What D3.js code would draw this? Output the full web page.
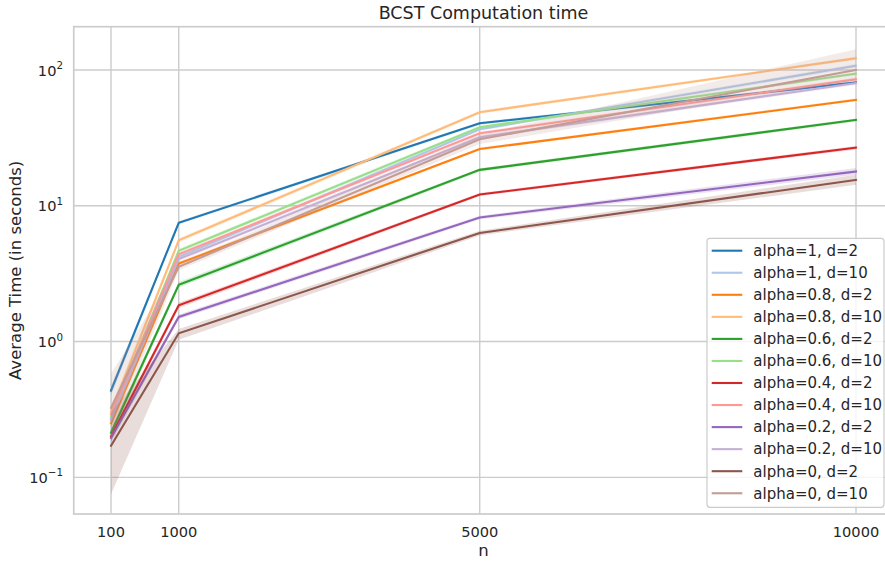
<!DOCTYPE html>
<html>
<head>
<meta charset="utf-8">
<script src="https://cdn.jsdelivr.net/npm/d3@7"></script>
<style>
  body { margin: 0; background: #fff; }
  svg { display: block; font-family: "DejaVu Sans", sans-serif; }
</style>
</head>
<body>
<svg id="chart" width="885" height="561"></svg>
<script>
// sample sizes on the x axis
var nValues = [100, 1000, 5000, 10000];
var xTickLabels = ["100", "1000", "5000", "10000"];
var yTickValues = [0.1, 1, 10, 100];
var yTickExponents = ["\u22121", "0", "1", "2"];

var seriesNames = [
  "alpha=1, d=2", "alpha=1, d=10",
  "alpha=0.8, d=2", "alpha=0.8, d=10",
  "alpha=0.6, d=2", "alpha=0.6, d=10",
  "alpha=0.4, d=2", "alpha=0.4, d=10",
  "alpha=0.2, d=2", "alpha=0.2, d=10",
  "alpha=0, d=2", "alpha=0, d=10"
];
var seriesColors = [
  "#1f77b4", "#aec7e8", "#ff7f0e", "#ffbb78", "#2ca02c", "#98df8a",
  "#d62728", "#ff9896", "#9467bd", "#c5b0d5", "#8c564b", "#c49c94"
];

// mean time per n
var meanA1D2   = [0.435, 7.5,  40.5, 81];
var meanA1D10  = [0.27,  4.2,  36.6, 107.6];
var meanA08D2  = [0.25,  3.75, 26.2, 60.2];
var meanA08D10 = [0.305, 5.56, 48.9, 122];
var meanA06D2  = [0.213, 2.62, 18.4, 42.9];
var meanA06D10 = [0.28,  4.67, 37.9, 94];
var meanA04D2  = [0.20,  1.85, 12.1, 26.8];
var meanA04D10 = [0.29,  4.4,  34.2, 85.5];
var meanA02D2  = [0.195, 1.52, 8.2,  17.9];
var meanA02D10 = [0.265, 4.05, 32,   80];
var meanA0D2   = [0.171, 1.15, 6.3,  15.5];
var meanA0D10  = [0.325, 3.55, 30.9, 100];

// confidence band, lower and upper
var loA1D2   = [0.40,  7.3,  39.5, 79];    var hiA1D2   = [0.47,  7.7,  41.5, 83];
var loA1D10  = [0.24,  4.05, 35.5, 104];   var hiA1D10  = [0.30,  4.35, 37.7, 111];
var loA08D2  = [0.23,  3.62, 25.6, 58.8];  var hiA08D2  = [0.27,  3.88, 26.8, 61.6];
var loA08D10 = [0.27,  5.35, 47.5, 119];   var hiA08D10 = [0.34,  5.77, 50.3, 125];
var loA06D2  = [0.195, 2.5,  17.9, 41.8];  var hiA06D2  = [0.23,  2.75, 18.9, 44];
var loA06D10 = [0.25,  4.5,  36.8, 91.5];  var hiA06D10 = [0.31,  4.85, 39,   96.5];
var loA04D2  = [0.185, 1.77, 11.8, 26];    var hiA04D2  = [0.215, 1.93, 12.4, 27.6];
var loA04D10 = [0.26,  4.25, 33.2, 83];    var hiA04D10 = [0.32,  4.55, 35.2, 88];
var loA02D2  = [0.18,  1.46, 7.95, 16.9];  var hiA02D2  = [0.21,  1.58, 8.45, 19];
var loA02D10 = [0.24,  3.9,  31,   77.5];  var hiA02D10 = [0.29,  4.2,  33,   82.5];
var loA0D2   = [0.075, 1.03, 6.05, 14.3];  var hiA0D2   = [0.30,  1.24, 6.55, 16.9];
var loA0D10  = [0.20,  3.35, 28.5, 84];    var hiA0D10  = [0.58,  3.75, 33.5, 142];

var means = [meanA1D2, meanA1D10, meanA08D2, meanA08D10, meanA06D2, meanA06D10,
             meanA04D2, meanA04D10, meanA02D2, meanA02D10, meanA0D2, meanA0D10];
var lows  = [loA1D2, loA1D10, loA08D2, loA08D10, loA06D2, loA06D10,
             loA04D2, loA04D10, loA02D2, loA02D10, loA0D2, loA0D10];
var highs = [hiA1D2, hiA1D10, hiA08D2, hiA08D10, hiA06D2, hiA06D10,
             hiA04D2, hiA04D10, hiA02D2, hiA02D10, hiA0D2, hiA0D10];

var svg = d3.select("#chart");
var textColor = "#262626";
var gridColor = "#cccccc";
var plotLeft = 73.75, plotRight = 893.25, plotTop = 26.7, plotBottom = 514;

var x = d3.scaleLinear().domain([-395, 10495]).range([plotLeft, plotRight]);
var y = d3.scaleLog().domain([0.0537, 208.5]).range([plotBottom, plotTop]);

// grid
svg.append("g").selectAll("line").data(nValues).enter().append("line")
  .attr("x1", function (d) { return x(d); }).attr("x2", function (d) { return x(d); })
  .attr("y1", plotTop).attr("y2", plotBottom)
  .attr("stroke", gridColor).attr("stroke-width", 1.4);
svg.append("g").selectAll("line").data(yTickValues).enter().append("line")
  .attr("x1", plotLeft).attr("x2", plotRight)
  .attr("y1", function (d) { return y(d); }).attr("y2", function (d) { return y(d); })
  .attr("stroke", gridColor).attr("stroke-width", 1.4);

// bands and lines
var plot = svg.append("g");
var area = d3.area()
  .x(function (d) { return x(d.n); })
  .y0(function (d) { return y(d.lo); })
  .y1(function (d) { return y(d.hi); });
var line = d3.line()
  .x(function (d) { return x(d.n); })
  .y(function (d) { return y(d.v); });

seriesNames.forEach(function (name, i) {
  var pts = nValues.map(function (n, j) {
    return { n: n, v: means[i][j], lo: lows[i][j], hi: highs[i][j] };
  });
  plot.append("path").datum(pts)
    .attr("d", area)
    .attr("fill", seriesColors[i]).attr("fill-opacity", 0.2).attr("stroke", "none");
  plot.append("path").datum(pts)
    .attr("d", line)
    .attr("fill", "none").attr("stroke", seriesColors[i])
    .attr("stroke-width", 2.1).attr("stroke-linecap", "square");
});

// spines
svg.append("rect")
  .attr("x", plotLeft).attr("y", plotTop)
  .attr("width", plotRight - plotLeft).attr("height", plotBottom - plotTop)
  .attr("fill", "none").attr("stroke", gridColor).attr("stroke-width", 1.7);

// x tick labels
svg.append("g").selectAll("text").data(nValues).enter().append("text")
  .attr("x", function (d) { return x(d); })
  .attr("y", 537)
  .attr("text-anchor", "middle")
  .attr("font-size", 14.6)
  .attr("fill", textColor)
  .text(function (d, i) { return xTickLabels[i]; });

// y tick labels, 10 with exponent
var yt = svg.append("g").selectAll("text").data(yTickValues).enter().append("text")
  .attr("x", 63)
  .attr("y", function (d) { return y(d) + 5.5; })
  .attr("text-anchor", "end")
  .attr("font-size", 14.6)
  .attr("fill", textColor);
yt.append("tspan").text("10");
yt.append("tspan")
  .attr("dy", -6.5)
  .attr("font-size", 10.3)
  .text(function (d, i) { return yTickExponents[i]; });

// title and axis labels
svg.append("text")
  .attr("x", (plotLeft + plotRight) / 2).attr("y", 18.5)
  .attr("text-anchor", "middle").attr("font-size", 17.5).attr("fill", textColor)
  .text("BCST Computation time");
svg.append("text")
  .attr("x", (plotLeft + plotRight) / 2).attr("y", 556)
  .attr("text-anchor", "middle").attr("font-size", 16.5).attr("fill", textColor)
  .text("n");
svg.append("text")
  .attr("transform", "translate(21," + ((plotTop + plotBottom) / 2) + ") rotate(-90)")
  .attr("text-anchor", "middle").attr("font-size", 16.5).attr("fill", textColor)
  .text("Average Time (in seconds)");

// legend
var legend = svg.append("g");
legend.append("rect")
  .attr("x", 707).attr("y", 238.3)
  .attr("width", 177).attr("height", 269)
  .attr("rx", 3).attr("ry", 3)
  .attr("fill", "#ffffff").attr("fill-opacity", 0.8)
  .attr("stroke", gridColor).attr("stroke-width", 1.2);
var items = legend.selectAll("g.item").data(seriesNames).enter().append("g")
  .attr("class", "item")
  .attr("transform", function (d, i) { return "translate(0," + (250.7 + i * 22.05) + ")"; });
items.append("line")
  .attr("x1", 711.7).attr("x2", 742.3)
  .attr("stroke", function (d, i) { return seriesColors[i]; })
  .attr("stroke-width", 2.1);
items.append("text")
  .attr("x", 753.3).attr("y", 5.3)
  .attr("font-size", 15).attr("fill", textColor)
  .text(function (d) { return d; });
</script>
</body>
</html>
